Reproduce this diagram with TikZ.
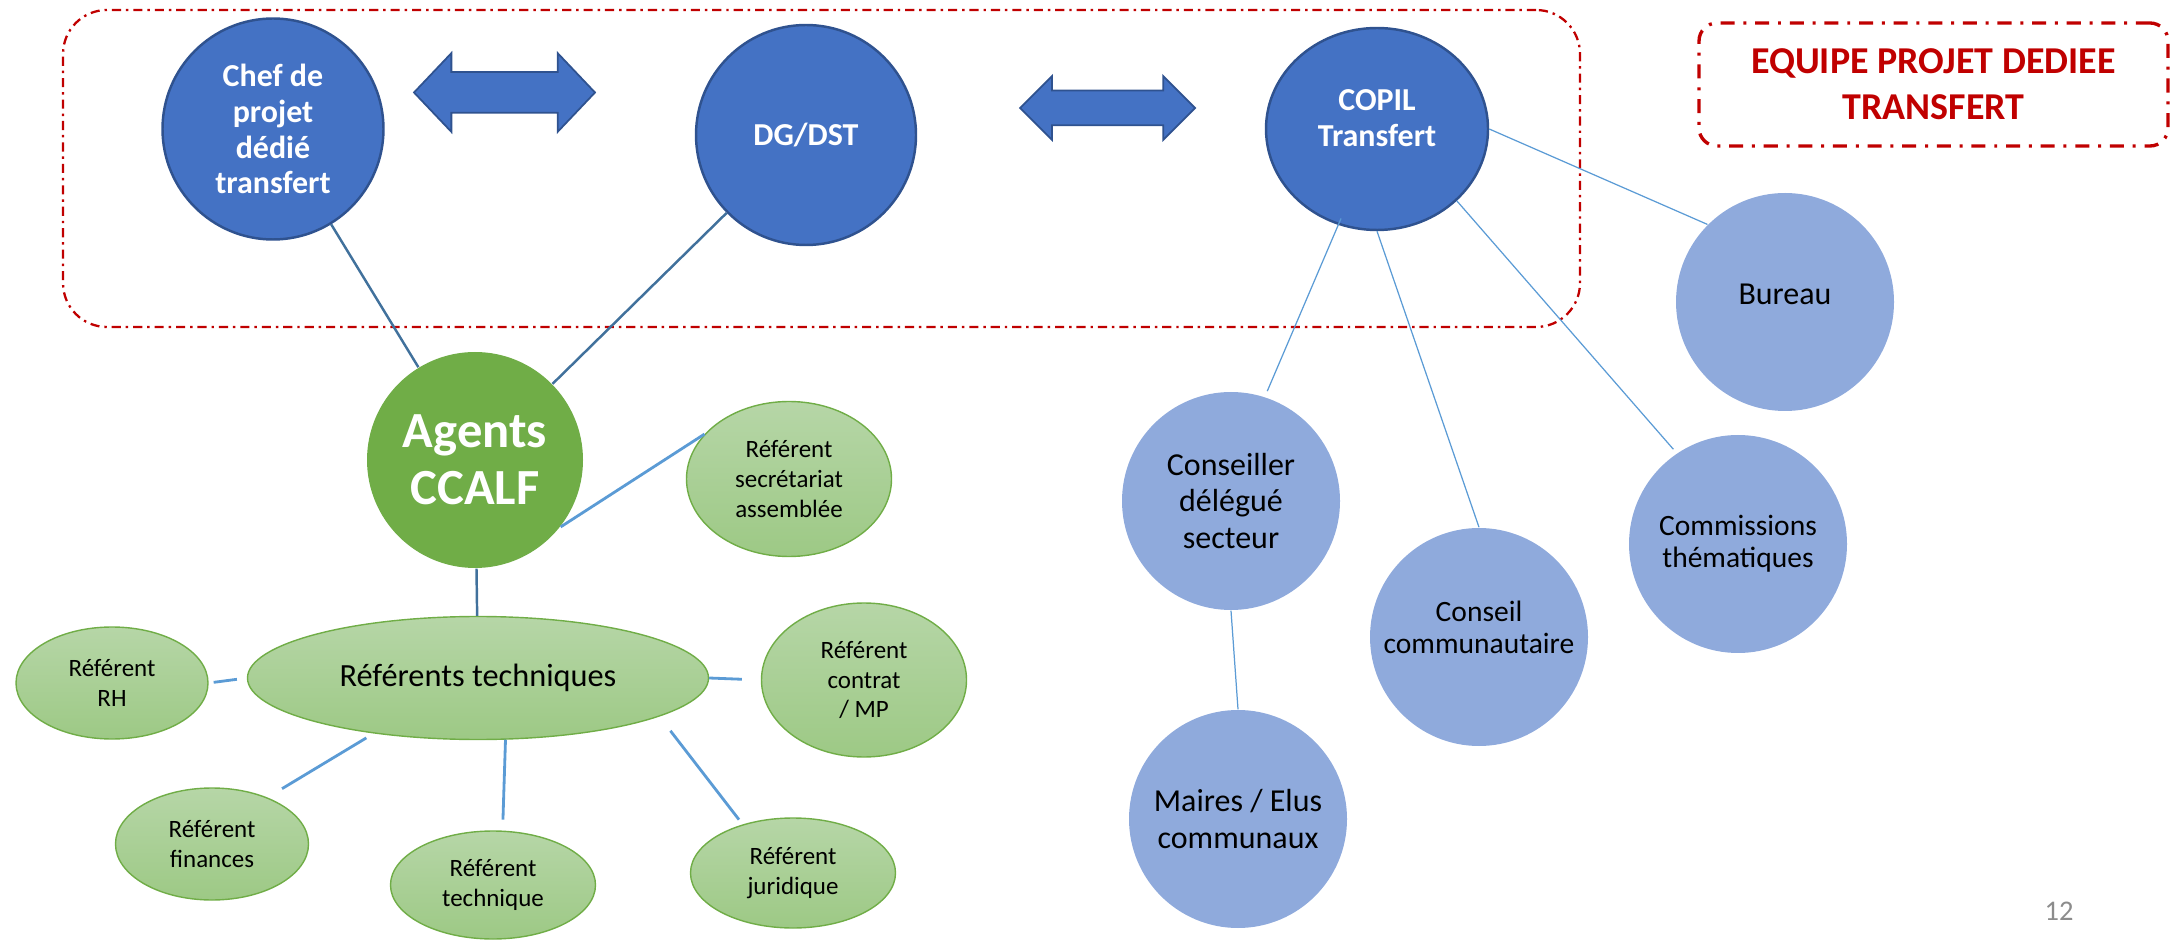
\documentclass[tikz,border=0pt]{standalone}
\usepackage{fontspec}
\setmainfont{Carlito}
\usetikzlibrary{shapes.geometric,shapes.arrows}
\definecolor{teamblue}{RGB}{68,114,196}
\definecolor{teamedge}{RGB}{47,82,143}
\definecolor{elublue}{RGB}{143,170,220}
\definecolor{agentgreen}{RGB}{112,173,71}
\definecolor{reftop}{RGB}{182,214,167}
\definecolor{refbottom}{RGB}{157,201,133}
\definecolor{linkdark}{RGB}{65,113,156}
\definecolor{linklight}{RGB}{91,155,213}
\definecolor{boxred}{RGB}{192,0,0}
\definecolor{numgray}{RGB}{140,140,140}
\begin{document}
\begin{tikzpicture}[x=0.1mm,y=-0.1mm,
  topnode/.style={circle, fill=teamblue, draw=teamedge, line width=0.7pt, inner sep=0pt, minimum size=22.1mm, align=center, text=white, font=\fontsize{9.1}{10.2}\selectfont\bfseries},
  elunode/.style={circle, fill=elublue, inner sep=0pt, minimum size=21.8mm, align=center, font=\fontsize{9.1}{10.4}\selectfont},
  refnode/.style={ellipse, draw=agentgreen, line width=0.4pt, top color=reftop, bottom color=refbottom, inner sep=0pt, align=center, font=\fontsize{7.1}{8.5}\selectfont},
  linkarrow/.style={double arrow, fill=teamblue, draw=teamedge, line width=0.5pt, inner sep=0pt},
  darklink/.style={draw=linkdark, line width=0.7pt},
  reflink/.style={draw=linklight, line width=0.8pt},
  elulink/.style={draw=linklight, line width=0.35pt}]
\useasboundingbox (0,0) rectangle (2178,941);
\node[draw=boxred, line width=0.65pt, rounded corners=4.4mm, dash pattern=on 2.6pt off 1.4pt on 0.7pt off 1.4pt, minimum width=151.7mm, minimum height=31.7mm] (teambox) at (821.5,168.5){};
\node[draw=boxred, line width=0.95pt, rounded corners=1.8mm, dash pattern=on 4pt off 2.5pt on 0.85pt off 2.5pt, minimum width=46.9mm, minimum height=12.3mm, align=center, text=boxred, font=\fontsize{10.8}{13.1}\selectfont\bfseries] (legend) at (1933.5,84.5){EQUIPE PROJET DEDIEE\\TRANSFERT};
\node[topnode] (chef) at (273,129){Chef de\\projet\\dédié\\transfert};
\node[topnode, minimum size=22mm] (dg) at (806,135){DG/DST};
\node[topnode, ellipse, minimum width=22.2mm, minimum height=20.2mm, text depth=2.2mm] (copil) at (1377,129){COPIL\\Transfert};
\node[linkarrow, minimum height=18.1mm, minimum width=7.7mm, double arrow head extend=1.9mm, double arrow tip angle=93] (arr1) at (504.5,92.5){\rule{0pt}{3.9mm}};
\node[linkarrow, minimum height=17.5mm, minimum width=6.2mm, double arrow head extend=1.45mm, double arrow tip angle=90] (arr2) at (1107.5,108){\rule{0pt}{3.3mm}};
\node[circle, fill=agentgreen, inner sep=0pt, minimum size=21.6mm, align=center, text=white, font=\fontsize{14.4}{16.3}\selectfont\bfseries] (agents) at (475,460){Agents\\CCALF};
\node[refnode, minimum width=46.1mm, minimum height=12.3mm, font=\fontsize{9.2}{11}\selectfont] (rt) at (478,678){Référents techniques};
\node[refnode, minimum width=20.5mm, minimum height=15.5mm] (refsec) at (789,479){Référent\\secrétariat\\assemblée};
\node[refnode, minimum width=20.5mm, minimum height=15.4mm] (refmp) at (864,680){Référent\\contrat\\/ MP};
\node[refnode, minimum width=20.5mm, minimum height=11mm] (refjur) at (793,873){Référent\\juridique};
\node[refnode, minimum width=20.5mm, minimum height=10.8mm] (reftech) at (493,885){Référent\\technique};
\node[refnode, minimum width=19.2mm, minimum height=11.2mm] (refrh) at (112,683){Référent\\RH};
\node[refnode, minimum width=19.3mm, minimum height=11.2mm] (reffin) at (212,844){Référent\\finances};
\node[elunode, text depth=1.6mm] (bureau) at (1785,302){Bureau};
\node[elunode] (delegue) at (1231,501){Conseiller\\délégué\\secteur};
\node[elunode, font=\fontsize{8.4}{9.2}\selectfont, text depth=2mm] (conseil) at (1479,637){Conseil\\communautaire};
\node[elunode, font=\fontsize{8.4}{9.2}\selectfont] (commis) at (1738,544){Commissions\\thématiques};
\node[elunode] (maires) at (1238,819){Maires / Elus\\communaux};
\node[text=numgray, font=\fontsize{8.1}{9.7}\selectfont] (pagenum) at (2059,911){12};
\draw[darklink](chef) -- (agents);
\draw[darklink](dg) -- (agents);
\draw[darklink](agents) -- (rt);
\draw[reflink](agents.-38) -- (refsec.152);
\draw[reflink, shorten <=0.5mm, shorten >=1mm](refrh.east) -- (rt.west);
\draw[reflink, shorten >=1.9mm](rt.east) -- (refmp.west);
\draw[reflink, shorten <=0.85mm, shorten >=1.7mm](rt.208) -- (reffin.40);
\draw[reflink, shorten >=1.1mm](rt.-66) -- (reftech.80);
\draw[reflink, shorten <=1.8mm, shorten >=0.6mm](rt.-12) -- (refjur.136);
\draw[elulink](copil.east) -- (bureau.135);
\draw[elulink, shorten <=-0.7mm, shorten >=0.6mm](copil.-112) -- (delegue.72);
\draw[elulink](copil.south) -- (conseil.north);
\draw[elulink, shorten >=0.5mm](copil.-42) -- (commis.124);
\draw[elulink](delegue.south) -- (maires.north);
\end{tikzpicture}
\end{document}
